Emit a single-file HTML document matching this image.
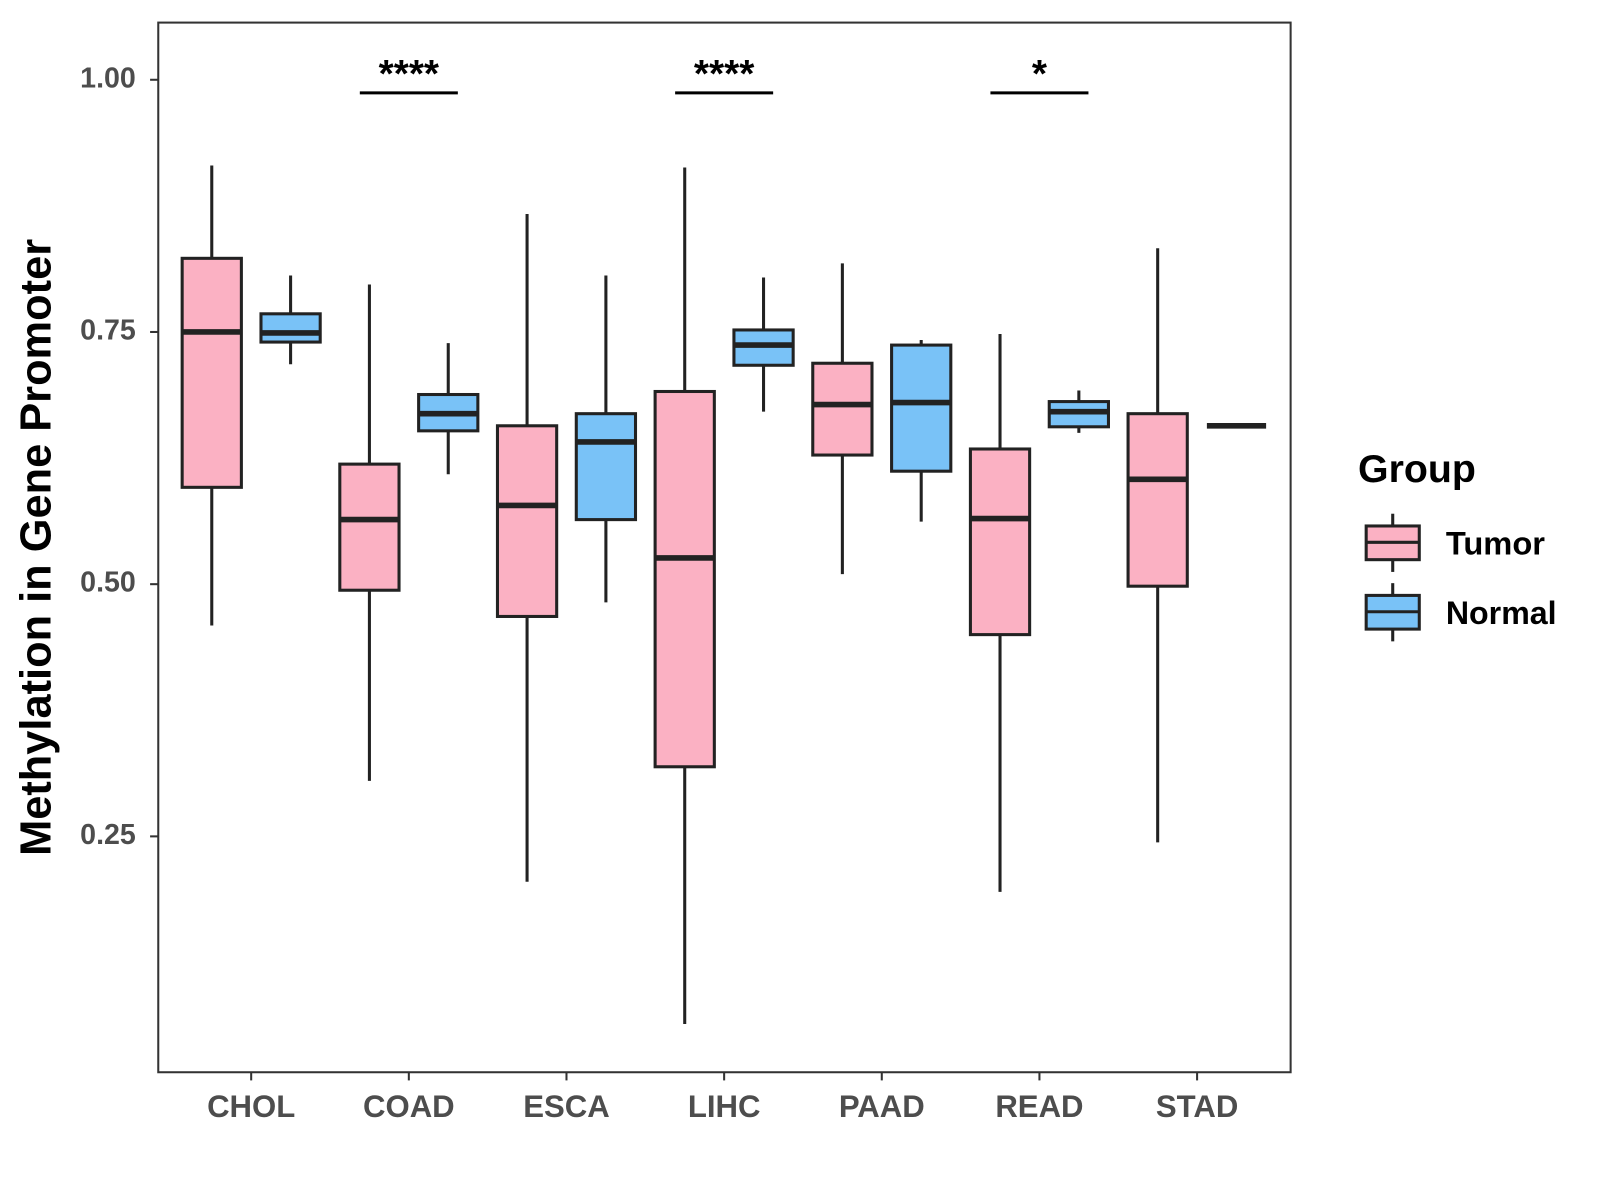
<!DOCTYPE html>
<html><head><meta charset="utf-8"><style>
html,body{margin:0;padding:0;background:#fff;}
svg{display:block;font-family:"Liberation Sans",Arial,sans-serif;}
</style></head><body>
<svg id="chart" width="1600" height="1200" viewBox="0 0 1567 1175">
<rect x="155" y="22" width="1109" height="1028" fill="#fff" stroke="#333" stroke-width="2"/>
<g id="yaxis"></g>
<g id="xaxis"></g>
<g id="boxes"></g>
<g id="sig"></g>
<text x="38" y="536" transform="rotate(-90 38 536)" text-anchor="middle" dominant-baseline="middle" font-size="42.5" font-weight="bold" fill="#000">Methylation in Gene Promoter</text>
<g>
<text x="1330" y="472" font-size="38.5" font-weight="bold" fill="#000">Group</text>
<g>
<line x1="1364" y1="503" x2="1364" y2="560" stroke="#222" stroke-width="3"/>
<rect x="1338" y="515" width="52" height="33" fill="#FBB1C3" stroke="#222" stroke-width="3"/>
<line x1="1338" y1="531" x2="1390" y2="531" stroke="#222" stroke-width="3"/>
<text x="1416" y="543" font-size="32" font-weight="bold" fill="#000">Tumor</text>
</g>
<g>
<line x1="1364" y1="571" x2="1364" y2="628" stroke="#222" stroke-width="3"/>
<rect x="1338" y="583" width="52" height="33" fill="#79C2F7" stroke="#222" stroke-width="3"/>
<line x1="1338" y1="599" x2="1390" y2="599" stroke="#222" stroke-width="3"/>
<text x="1416" y="611" font-size="31.5" font-weight="bold" fill="#000">Normal</text>
</g>
</g>
</svg>
<script>
const categories=["CHOL","COAD","ESCA","LIHC","PAAD","READ","STAD"];
// [min,q1,median,q3,max]
const tumorStats=[[0.459,0.596,0.75,0.823,0.915],[0.305,0.494,0.564,0.619,0.797],[0.205,0.468,0.578,0.657,0.867],[0.064,0.319,0.526,0.691,0.913],[0.510,0.628,0.678,0.719,0.818],[0.195,0.450,0.565,0.634,0.748],[0.244,0.498,0.604,0.669,0.833]];
const normalStats=[[0.718,0.740,0.749,0.768,0.806],[0.609,0.652,0.669,0.688,0.739],[0.482,0.564,0.641,0.669,0.806],[0.671,0.717,0.737,0.752,0.804],[0.562,0.612,0.680,0.737,0.742],[0.650,0.656,0.671,0.681,0.692],[0.657,0.657,0.657,0.657,0.657]];
const yTicks=[0.25,0.50,0.75,1.00];
const yTickLabels=["0.25","0.50","0.75","1.00"];
const sigCats=["COAD","LIHC","READ"];
const sigLabels=["****","****","*"];
const sigLevel=0.987;

const NS="http://www.w3.org/2000/svg";
const y=v=>78+(1-v)*988;
const x=i=>246+i*154.4;
function mk(tag,attrs,parent){const e=document.createElementNS(NS,tag);for(const k in attrs)e.setAttribute(k,attrs[k]);parent.appendChild(e);return e;}
const ya=document.getElementById('yaxis'),xa=document.getElementById('xaxis'),bx=document.getElementById('boxes'),sg=document.getElementById('sig');
yTicks.forEach((t,i)=>{
  const l=mk('line',{x1:147,x2:155,y1:y(t),y2:y(t),stroke:'#333','stroke-width':2},ya);
  
  
  const tx=mk('text',{x:133,y:y(t),'text-anchor':'end','dominant-baseline':'middle','font-size':28,'font-weight':'bold',fill:'#4d4d4d'},ya);
  tx.textContent=yTickLabels[i];
  
  
});
categories.forEach((c,i)=>{
  const l=mk('line',{x1:x(i),x2:x(i),y1:1050,y2:1058,stroke:'#333','stroke-width':2},xa);
  
  
  const tx=mk('text',{x:x(i),y:1094,'text-anchor':'middle','font-size':30.5,'font-weight':'bold',fill:'#4d4d4d'},xa);
  tx.textContent=c;
  
  
});
function box(cx,s,fill,name){
  const g=mk('g',{},bx);
  
  
  const w=29;
  mk('line',{x1:cx,x2:cx,y1:y(s[0]),y2:y(s[4]),stroke:'#222','stroke-width':3},g);
  mk('rect',{x:cx-w,y:y(s[3]),width:2*w,height:Math.max(0,y(s[1])-y(s[3])),fill:fill,stroke:'#222','stroke-width':3},g);
  mk('line',{x1:cx-w,x2:cx+w,y1:y(s[2]),y2:y(s[2]),stroke:'#222','stroke-width':5.5},g);
}
categories.forEach((c,i)=>{
  box(x(i)-38.6,tumorStats[i],'#FBB1C3','box-tumor-'+c.toLowerCase());
  box(x(i)+38.6,normalStats[i],'#79C2F7','box-normal-'+c.toLowerCase());
});
sigCats.forEach((c,k)=>{
  const i=categories.indexOf(c);
  const l=mk('line',{x1:x(i)-48,x2:x(i)+48,y1:y(sigLevel),y2:y(sigLevel),stroke:'#000','stroke-width':3},sg);
  
  
  const t=mk('text',{x:x(i),y:y(sigLevel)-6,'text-anchor':'middle','font-size':38,'font-weight':'bold',fill:'#000'},sg);
  t.textContent=sigLabels[k];
  
  
});
</script>
</body></html>
